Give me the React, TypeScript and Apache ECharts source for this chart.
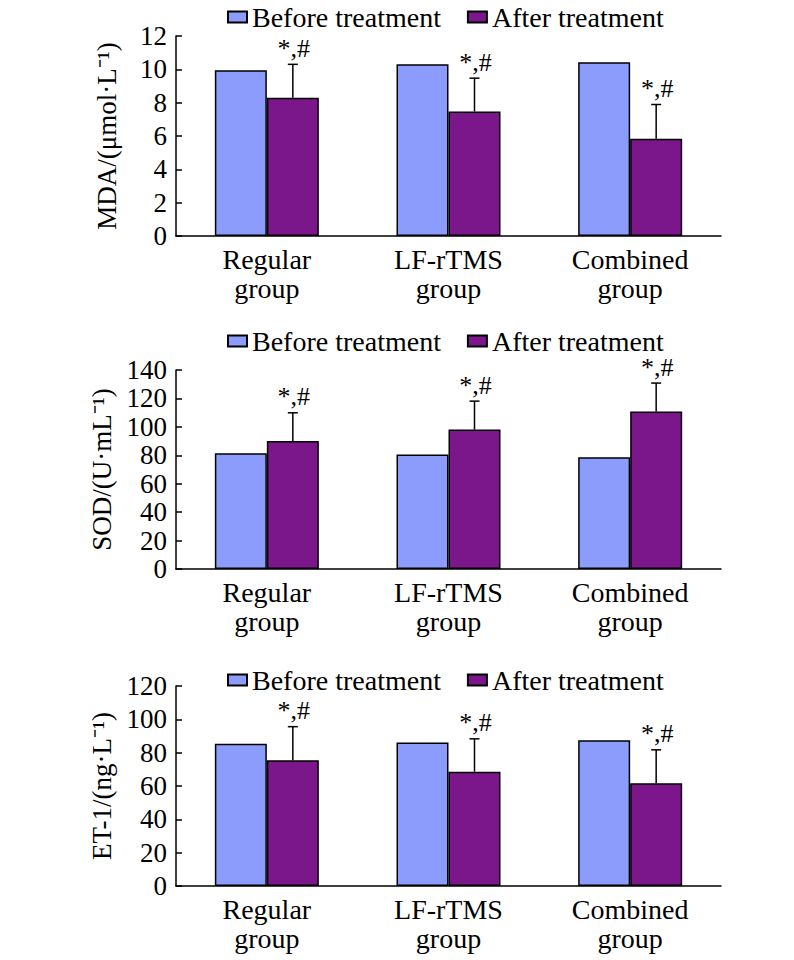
import React, { useEffect, useRef } from "react";
import * as echarts from "echarts";

const categories = ["Regular\ngroup", "LF-rTMS\ngroup", "Combined\ngroup"];
const seriesNames = ["Before treatment", "After treatment"];

const mdaBefore = [9.95, 10.3, 10.43];
const mdaAfter = [8.3, 7.47, 5.84];
const mdaAfterErr = [2.0, 2.0, 2.05];

const sodBefore = [81.4, 80.5, 78.6];
const sodAfter = [90.1, 98.1, 110.8];
const sodAfterErr = [19.8, 20.0, 20.0];

const etBefore = [85.3, 86.1, 87.5];
const etAfter = [75.4, 68.6, 61.7];
const etAfterErr = [20.2, 19.7, 20.0];

const annotations = ["*,#", "*,#", "*,#"];

const yNames = ["MDA/(μmol·L⁻¹)", "SOD/(U·mL⁻¹)", "ET-1/(ng·L⁻¹)"];
const yMax = [12, 140, 120];
const yInterval = [2, 20, 20];

const FONT = "'Liberation Serif', 'Times New Roman', serif";
const BEFORE_COLOR = "#8b9cfc";
const AFTER_COLOR = "#7c168b";
const BAR_WIDTH = 52;

const gridTops = [36, 370, 686];
const gridHeights = [200, 199, 200];
const legendTops = [3, 327, 666];

export default function App() {
  const ref = useRef<HTMLDivElement>(null);

  useEffect(() => {
    if (!ref.current) return;
    const chart = echarts.init(ref.current, null, { renderer: "svg" });

    const panels = [
      { before: mdaBefore, after: mdaAfter, err: mdaAfterErr },
      { before: sodBefore, after: sodAfter, err: sodAfterErr },
      { before: etBefore, after: etAfter, err: etAfterErr },
    ];

    const grid: any[] = [];
    const xAxis: any[] = [];
    const yAxis: any[] = [];
    const legend: any[] = [];
    const series: any[] = [];

    panels.forEach((p, i) => {
      grid.push({ left: 176, right: 73, top: gridTops[i], height: gridHeights[i] });
      xAxis.push({
        type: "category",
        gridIndex: i,
        data: categories,
        axisTick: { show: false },
        axisLine: { lineStyle: { color: "#000", width: 1.5 } },
        axisLabel: {
          color: "#000",
          fontSize: 28,
          fontFamily: FONT,
          lineHeight: 29,
          margin: 9,
        },
      });
      yAxis.push({
        type: "value",
        gridIndex: i,
        min: 0,
        max: yMax[i],
        interval: yInterval[i],
        splitLine: { show: false },
        axisLine: { show: true, lineStyle: { color: "#000", width: 1.5 } },
        axisTick: { show: true, inside: true, length: 6, lineStyle: { color: "#000", width: 1.5 } },
        axisLabel: { color: "#000", fontSize: 27, fontFamily: FONT, margin: 9 },
        name: yNames[i],
        nameLocation: "middle",
        nameGap: 56,
        nameTextStyle: { color: "#000", fontSize: 27, fontFamily: FONT },
      });
      legend.push({
        left: 227,
        top: legendTops[i],
        padding: 0,
        itemGap: 26,
        itemWidth: 19,
        itemHeight: 11,
        icon: "rect",
        selectedMode: false,
        data: seriesNames,
        textStyle: { color: "#000", fontSize: 28, fontFamily: FONT },
      });
      series.push({
        type: "bar",
        name: seriesNames[0],
        xAxisIndex: i,
        yAxisIndex: i,
        data: p.before,
        barWidth: BAR_WIDTH,
        barGap: "0%",
        itemStyle: { color: BEFORE_COLOR, borderColor: "#000", borderWidth: 1.5 },
      });
      series.push({
        type: "bar",
        name: seriesNames[1],
        xAxisIndex: i,
        yAxisIndex: i,
        data: p.after,
        barWidth: BAR_WIDTH,
        barGap: "0%",
        itemStyle: { color: AFTER_COLOR, borderColor: "#000", borderWidth: 1.5 },
      });
      series.push({
        type: "custom",
        name: "err" + i,
        xAxisIndex: i,
        yAxisIndex: i,
        z: 5,
        data: p.after.map((v, k) => [k, v, p.err[k]]),
        encode: { x: 0, y: 1 },
        renderItem: (params: any, api: any) => {
          const idx = api.value(0);
          const v = api.value(1);
          const e = api.value(2);
          const base = api.coord([idx, v]);
          const top = api.coord([idx, v + e]);
          const x = base[0] + BAR_WIDTH / 2;
          return {
            type: "group",
            children: [
              {
                type: "line",
                shape: { x1: x, y1: base[1], x2: x, y2: top[1] },
                style: { stroke: "#000", lineWidth: 1.5 },
              },
              {
                type: "line",
                shape: { x1: x - 5, y1: top[1], x2: x + 5, y2: top[1] },
                style: { stroke: "#000", lineWidth: 1.5 },
              },
              {
                type: "text",
                x: x + 1,
                y: top[1] - 3,
                style: {
                  text: annotations[idx],
                  fontSize: 26,
                  fontFamily: FONT,
                  fill: "#000",
                  align: "center",
                  verticalAlign: "bottom",
                },
              },
            ],
          };
        },
      });
    });

    chart.setOption({
      animation: false,
      backgroundColor: "#fff",
      grid,
      xAxis,
      yAxis,
      legend,
      series,
    });

    return () => {
      chart.dispose();
    };
  }, []);

  return (
    <div
      ref={ref}
      style={{ position: "fixed", left: 0, top: 0, width: 794, height: 960, background: "#fff" }}
    />
  );
}
